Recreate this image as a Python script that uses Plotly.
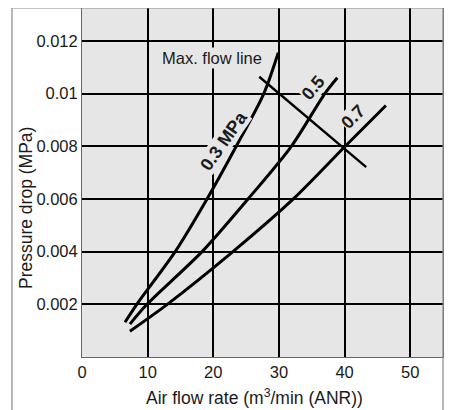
import plotly.graph_objects as go

# ---- data ----
flow_03 = [6.55, 8.35, 14.2, 19.05, 23.5, 27.7, 29.9]
dp_03 = [0.00132, 0.002, 0.004, 0.006, 0.008, 0.010, 0.01155]

flow_05 = [7.3, 9.9, 18.3, 25.3, 31.9, 37.0, 38.9]
dp_05 = [0.00125, 0.002, 0.004, 0.006, 0.008, 0.010, 0.0106]

flow_07 = [7.3, 13.0, 23.0, 32.2, 40.1, 46.3]
dp_07 = [0.00098, 0.002, 0.004, 0.006, 0.008, 0.00955]

maxflow_x = [27.0, 43.3]
maxflow_y = [0.01064, 0.00721]

x_ticks = [0, 10, 20, 30, 40, 50]
x_ticktext = ["0", "10", "20", "30", "40", "50"]
y_ticks = [0.002, 0.004, 0.006, 0.008, 0.010, 0.012]
y_ticktext = ["0.002", "0.004", "0.006", "0.008", "0.01", "0.012"]

curve_labels = ["0.3 MPa", "0.5", "0.7"]
label_x = [21.6, 35.2, 41.3]
label_y = [0.0082, 0.0102, 0.0091]
label_angle = [-55, -50, -45]

BG = "#e6e6e6"
FONT = "Liberation Sans, Arial, sans-serif"
INK = "#1a1a1a"

fig = go.Figure()
for fx, fy in [(flow_03, dp_03), (flow_05, dp_05), (flow_07, dp_07)]:
    fig.add_trace(go.Scatter(x=fx, y=fy, mode="lines",
                             line=dict(color="black", width=3, shape="spline", smoothing=0.8),
                             showlegend=False, hoverinfo="skip"))
fig.add_trace(go.Scatter(x=maxflow_x, y=maxflow_y, mode="lines",
                         line=dict(color="black", width=2.4),
                         showlegend=False, hoverinfo="skip"))

annotations = []
for t, x, y, a in zip(curve_labels, label_x, label_y, label_angle):
    annotations.append(dict(x=x, y=y, xref="x", yref="y", text="<b>" + t + "</b>",
                            textangle=a, showarrow=False, bgcolor=BG,
                            xanchor="center", yanchor="middle",
                            font=dict(family=FONT, size=18, color=INK), borderpad=0))
annotations.append(dict(x=19.8, y=0.01136, xref="x", yref="y", text="Max. flow line",
                        showarrow=False, bgcolor=BG, borderpad=1,
                        xanchor="center", yanchor="middle",
                        font=dict(family=FONT, size=16.5, color=INK)))
annotations.append(dict(x=-0.155, y=0.427, xref="paper", yref="paper",
                        text="Pressure drop (MPa)", textangle=-90, showarrow=False,
                        xanchor="center", yanchor="middle",
                        font=dict(family=FONT, size=17.5, color=INK)))
annotations.append(dict(x=0.478, y=-0.115, xref="paper", yref="paper",
                        text="Air flow rate (m<sup>3</sup>/min (ANR))", showarrow=False,
                        xanchor="center", yanchor="middle",
                        font=dict(family=FONT, size=17.5, color=INK)))

fig.update_layout(
    width=448, height=402,
    margin=dict(l=74, r=13, t=0, b=53),
    paper_bgcolor="white", plot_bgcolor=BG,
    font=dict(family=FONT, size=16.5, color=INK),
    annotations=annotations,
    shapes=[dict(type="rect", xref="paper", yref="paper", x0=-0.194, x1=1.0,
                 y0=-0.3, y1=1.0, line=dict(color="#8a8a8a", width=1.2),
                 layer="above")],
)
fig.update_xaxes(range=[0, 55], tickvals=x_ticks, ticktext=x_ticktext,
                 showgrid=True, gridcolor="black", gridwidth=1.7, zeroline=False,
                 showline=True, linecolor="#666", linewidth=1, mirror=True, ticks="")
fig.update_yaxes(range=[0, 0.01325], tickvals=y_ticks, ticktext=y_ticktext,
                 showgrid=True, gridcolor="black", gridwidth=1.7, zeroline=False,
                 showline=True, linecolor="#666", linewidth=1, mirror=True, ticks="")

fig.write_html("out.html")
